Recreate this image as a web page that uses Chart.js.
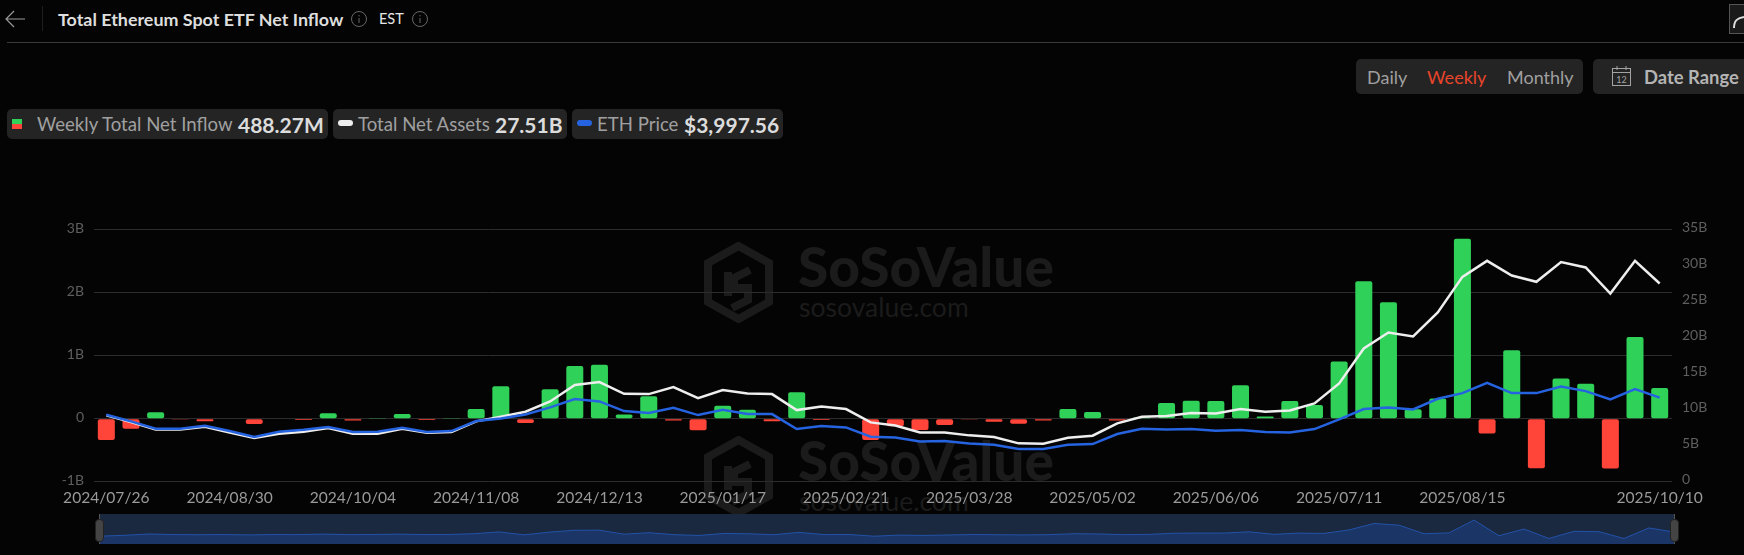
<!DOCTYPE html>
<html>
<head>
<meta charset="utf-8">
<title>Total Ethereum Spot ETF Net Inflow</title>
<script src="https://cdn.jsdelivr.net/npm/chart.js@4/dist/chart.umd.min.js"></script>
<style>
  html, body { margin: 0; padding: 0; background: #040404; }
  body { position: relative; width: 1744px; height: 555px; overflow: hidden; font-family: Lato, sans-serif; }
  .abs { position: absolute; white-space: nowrap; }
  .chip { position: absolute; background: #242424; border-radius: 5px; }
  .grey { color: #a0a0a0; }
  .val { color: #dcdcdc; font-weight: 700; }
  .mark { position: absolute; color: #1b1b1b; white-space: nowrap; }
  #mainChart { position: absolute; left: 0; top: 0; }
  #sliderWrap { position: absolute; left: 99px; top: 514px; width: 1575px; height: 30px; background: #1b2940; }
  .handleLine { position: absolute; top: 514px; width: 1px; height: 30px; background: #555; }
  .handle { position: absolute; top: 519px; width: 7px; height: 21px; background: #444; border: 1px solid #222; border-radius: 4px; }
</style>
</head>
<body>

<!-- header -->
<svg class="abs" style="left:4px;top:8px" width="22" height="22" viewBox="0 0 22 22" fill="none" stroke="#999" stroke-width="1.2"><path d="M21 11H2M10 3l-8 8 8 8"/></svg>
<div class="abs" style="left:42px;top:6px;width:1px;height:25px;background:#1e1e1e"></div>
<div class="abs" style="left:58px;top:8px;font-size:17.9px;font-weight:700;color:#dedede;line-height:22px">Total Ethereum Spot ETF Net Inflow</div>
<svg class="abs" style="left:350px;top:10px" width="18" height="18" viewBox="0 0 18 18" fill="none" stroke="#666"><circle cx="9" cy="9" r="7.5"/><path d="M9 8v5M9 5v1.4"/></svg>
<div class="abs" style="left:379px;top:8px;font-size:14.5px;color:#e6e6e6;line-height:22px">EST</div>
<svg class="abs" style="left:411px;top:10px" width="18" height="18" viewBox="0 0 18 18" fill="none" stroke="#666"><circle cx="9" cy="9" r="7.5"/><path d="M9 8v5M9 5v1.4"/></svg>
<div class="abs" style="left:7px;top:42px;width:1737px;height:1px;background:#3a3a3a"></div>
<svg class="abs" style="left:1729px;top:4px" width="15" height="30" viewBox="0 0 15 30" fill="none"><rect x="0.5" y="0.5" width="30" height="29" stroke="#555" fill="#1a1a1a"/><path d="M5 24c0-8 4-10 10-11" stroke="#ddd" stroke-width="2"/></svg>

<!-- range buttons -->
<div class="chip" style="left:1356px;top:59px;width:227px;height:35px"></div>
<div class="abs grey" style="left:1367px;top:65px;font-size:18px;line-height:24px">Daily</div>
<div class="abs" style="left:1427px;top:65px;font-size:18px;line-height:24px;color:#e8452a">Weekly</div>
<div class="abs grey" style="left:1507px;top:65px;font-size:18px;line-height:24px">Monthly</div>
<div class="chip" style="left:1593px;top:59px;width:160px;height:35px"></div>
<svg class="abs" style="left:1611px;top:65px" width="21" height="22" viewBox="0 0 21 22" fill="none" stroke="#a3a3a3"><rect x="1.5" y="3.5" width="18" height="17"/><path d="M1.5 7.5h18M6 1v4M15 1v4"/><text x="10.5" y="18" font-size="9" fill="#a3a3a3" stroke="none" text-anchor="middle" font-family="Lato">12</text></svg>
<div class="abs" style="left:1644px;top:65px;font-size:18.4px;font-weight:700;line-height:24px;color:#b4b4b4">Date Range</div>

<!-- legend chips -->
<div class="chip" style="left:7px;top:109px;width:321px;height:30px"></div>
<div class="abs" style="left:12px;top:119px;width:10px;height:5px;background:#30d158"></div>
<div class="abs" style="left:12px;top:124px;width:10px;height:5px;background:#ff453a"></div>
<div class="abs grey" style="left:37px;top:112px;font-size:18.6px;line-height:24px">Weekly Total Net Inflow</div>
<div class="abs val" style="left:238px;top:112px;font-size:21px;line-height:25px">488.27M</div>
<div class="chip" style="left:333px;top:109px;width:234px;height:30px"></div>
<div class="abs" style="left:338px;top:120px;width:15px;height:6px;background:#eee;border-radius:3px"></div>
<div class="abs grey" style="left:358px;top:112px;font-size:18.6px;line-height:24px">Total Net Assets</div>
<div class="abs val" style="left:495px;top:112px;font-size:21px;line-height:25px">27.51B</div>
<div class="chip" style="left:572px;top:109px;width:211px;height:30px"></div>
<div class="abs" style="left:577px;top:120px;width:15px;height:6px;background:#2563e0;border-radius:3px"></div>
<div class="abs grey" style="left:597px;top:112px;font-size:18.6px;line-height:24px">ETH Price</div>
<div class="abs val" style="left:684px;top:112px;font-size:21px;line-height:25px">$3,997.56</div>

<!-- watermark, drawn twice under the chart -->
<svg class="abs" style="left:704px;top:242px" width="69" height="81" viewBox="0 0 69 81" fill="none" stroke="#1b1b1b" stroke-width="8"><path d="M34.5 4L65 21v39L34.5 77 4 60V21z"/><path d="M46 28L30 36v10l14 0v12L28 66M24 30v24"/></svg>
<div class="mark" style="left:798px;top:235px;font-size:55px;font-weight:900;line-height:62px">SoSoValue</div>
<div class="mark" style="left:799px;top:293px;font-size:26.5px;line-height:28px">sosovalue.com</div>
<svg class="abs" style="left:704px;top:436px" width="69" height="81" viewBox="0 0 69 81" fill="none" stroke="#1b1b1b" stroke-width="8"><path d="M34.5 4L65 21v39L34.5 77 4 60V21z"/><path d="M46 28L30 36v10l14 0v12L28 66M24 30v24"/></svg>
<div class="mark" style="left:798px;top:429px;font-size:55px;font-weight:900;line-height:62px">SoSoValue</div>
<div class="mark" style="left:799px;top:487px;font-size:26.5px;line-height:28px">sosovalue.com</div>

<canvas id="mainChart" width="1744" height="555"></canvas>

<div id="sliderWrap"><canvas id="sliderChart" width="1575" height="30"></canvas></div>
<div class="handleLine" style="left:99px"></div>
<div class="handle" style="left:95px"></div>
<div class="handleLine" style="left:1674px"></div>
<div class="handle" style="left:1670px"></div>

<script>
const weeks = [
  '2024/07/26', '2024/08/02', '2024/08/09', '2024/08/16', '2024/08/23', '2024/08/30', '2024/09/06', '2024/09/13',
  '2024/09/20', '2024/09/27', '2024/10/04', '2024/10/11', '2024/10/18', '2024/10/25', '2024/11/01', '2024/11/08',
  '2024/11/15', '2024/11/22', '2024/11/29', '2024/12/06', '2024/12/13', '2024/12/20', '2024/12/27', '2025/01/03',
  '2025/01/10', '2025/01/17', '2025/01/24', '2025/01/31', '2025/02/07', '2025/02/14', '2025/02/21', '2025/02/28',
  '2025/03/07', '2025/03/14', '2025/03/21', '2025/03/28', '2025/04/04', '2025/04/11', '2025/04/18', '2025/04/25',
  '2025/05/02', '2025/05/09', '2025/05/16', '2025/05/23', '2025/05/30', '2025/06/06', '2025/06/13', '2025/06/20',
  '2025/06/27', '2025/07/03', '2025/07/11', '2025/07/18', '2025/07/25', '2025/08/01', '2025/08/08', '2025/08/15',
  '2025/08/22', '2025/08/29', '2025/09/05', '2025/09/12', '2025/09/19', '2025/09/26', '2025/10/03', '2025/10/10',
];

// labels the site actually prints, 2025/09/19 gets dropped next to the last one
const shownLabels = [
  '2024/07/26', '2024/08/30', '2024/10/04', '2024/11/08', '2024/12/13', '2025/01/17', '2025/02/21',
  '2025/03/28', '2025/05/02', '2025/06/06', '2025/07/11', '2025/08/15', '2025/10/10',
];

// billions
const netInflow = [
  -0.34, -0.16, 0.10, -0.015, -0.04, -0.01, -0.085, -0.01,
  -0.02, 0.085, -0.03, 0.003, 0.075, -0.02, 0.01, 0.155,
  0.515, -0.07, 0.465, 0.835, 0.855, 0.065, 0.355, -0.03,
  -0.185, 0.205, 0.14, -0.04, 0.42, -0.02, 0.005, -0.34,
  -0.12, -0.18, -0.10, -0.005, -0.05, -0.08, -0.03, 0.155,
  0.105, -0.03, 0.02, 0.25, 0.285, 0.28, 0.53, 0.035,
  0.28, 0.215, 0.905, 2.18, 1.845, 0.15, 0.32, 2.855,
  -0.235, 1.085, -0.785, 0.635, 0.555, -0.79, 1.295, 0.488,
];

// billions
const netAssets = [
  9.2, 8.28, 7.26, 7.26, 7.63, 6.84, 6.06, 6.66,
  6.93, 7.44, 6.66, 6.66, 7.35, 6.8, 6.89, 8.37,
  9.02, 9.71, 11.14, 13.41, 13.82, 12.2, 12.16, 13.13,
  11.6, 12.71, 12.25, 12.16, 9.94, 10.45, 10.08, 8.23,
  7.81, 6.84, 6.84, 6.43, 6.2, 5.32, 5.27, 6.1,
  6.38, 8.09, 9.02, 9.11, 9.52, 9.48, 10.08, 9.71,
  9.89, 10.86, 13.64, 18.49, 20.71, 20.16, 23.49, 28.43,
  30.65, 28.62, 27.74, 30.47, 29.73, 26.12, 30.65, 27.51,
];

// usd
const ethPrice = [
  3186, 2869, 2520, 2520, 2663, 2409, 2124, 2378,
  2473, 2599, 2362, 2378, 2568, 2362, 2409, 2885,
  3012, 3202, 3535, 3931, 3820, 3360, 3265, 3519,
  3170, 3424, 3218, 3218, 2504, 2647, 2584, 2140,
  2108, 1918, 1934, 1823, 1759, 1553, 1553, 1759,
  1791, 2267, 2520, 2488, 2504, 2425, 2457, 2362,
  2346, 2504, 2964, 3455, 3535, 3440, 3947, 4216,
  4707, 4216, 4216, 4533, 4311, 3915, 4406, 3997.56,
];

const GREEN = '#30d158';
const RED = '#ff453a';

new Chart(document.getElementById('mainChart'), {
  type: 'bar',
  data: {
    labels: weeks,
    datasets: [
      {
        label: 'Weekly Total Net Inflow',
        data: netInflow,
        backgroundColor: netInflow.map(v => (v >= 0 ? GREEN : RED)),
        borderRadius: 2,
        borderSkipped: false,
        barPercentage: 0.69,
        categoryPercentage: 1,
        yAxisID: 'y',
        order: 3,
      },
      {
        type: 'line',
        label: 'Total Net Assets',
        data: netAssets,
        borderColor: '#eeeeee',
        borderWidth: 2.5,
        pointRadius: 0,
        tension: 0,
        yAxisID: 'yAssets',
        order: 2,
      },
      {
        type: 'line',
        label: 'ETH Price',
        data: ethPrice,
        borderColor: '#2563e0',
        borderWidth: 2.5,
        pointRadius: 0,
        tension: 0,
        yAxisID: 'yPrice',
        order: 1,
      },
    ],
  },
  options: {
    responsive: false,
    animation: false,
    layout: { padding: { top: 229.5, left: 0, right: 0, bottom: 0 } },
    plugins: { legend: { display: false }, tooltip: { enabled: false } },
    scales: {
      x: {
        grid: { display: false, drawTicks: false },
        border: { display: false },
        afterFit: scale => { scale.height = 73.3; },
        ticks: {
          autoSkip: false,
          maxRotation: 0,
          padding: 7,
          color: '#9a9a9a',
          font: { family: 'Lato', size: 15.6 },
          callback(value) {
            const label = this.getLabelForValue(value);
            return shownLabels.includes(label) ? label : '';
          },
        },
      },
      y: {
        position: 'left',
        min: -1,
        max: 3,
        afterFit: scale => { scale.width = 94; },
        grid: { color: '#2c2c2c', drawTicks: false, lineWidth: 1 },
        border: { display: false },
        ticks: {
          stepSize: 1,
          padding: 10,
          labelOffset: -1,
          color: '#5f5f5f',
          font: { family: 'Lato', size: 14 },
          callback: v => (v === 0 ? '0' : v + 'B'),
        },
      },
      yAssets: {
        position: 'right',
        min: 0,
        max: 35,
        afterFit: scale => { scale.width = 72; },
        grid: { display: false, drawTicks: false },
        border: { display: false },
        ticks: {
          stepSize: 5,
          padding: 10,
          labelOffset: -2,
          color: '#5f5f5f',
          font: { family: 'Lato', size: 14 },
          callback: v => (v === 0 ? '0' : v + 'B'),
        },
      },
      yPrice: { display: false, min: 0, max: 12000 },
    },
  },
});

// overview strip under the chart, same inflow series
new Chart(document.getElementById('sliderChart'), {
  type: 'line',
  data: {
    labels: weeks,
    datasets: [
      {
        data: netInflow,
        borderColor: '#2352a8',
        borderWidth: 1,
        backgroundColor: '#1b3566',
        fill: 'start',
        pointRadius: 0,
        tension: 0,
      },
    ],
  },
  options: {
    responsive: false,
    animation: false,
    layout: { padding: 0 },
    plugins: { legend: { display: false }, tooltip: { enabled: false } },
    scales: {
      x: { display: false },
      y: { display: false, min: -1.88, max: 4.06 },
    },
  },
});
</script>
</body>
</html>
